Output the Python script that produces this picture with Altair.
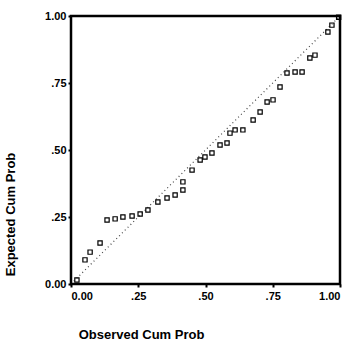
import altair as alt
import pandas as pd

observed = [0.022, 0.052, 0.071, 0.108, 0.134, 0.164, 0.193, 0.227, 0.257, 0.286,
            0.323, 0.357, 0.387, 0.416, 0.416, 0.450, 0.480, 0.498, 0.524, 0.554,
            0.580, 0.591, 0.610, 0.639, 0.677, 0.703, 0.729, 0.751, 0.777, 0.803,
            0.833, 0.859, 0.888, 0.907, 0.955, 0.970, 0.995]
expected = [0.015, 0.090, 0.119, 0.153, 0.239, 0.243, 0.250, 0.254, 0.261, 0.276,
            0.306, 0.321, 0.332, 0.351, 0.381, 0.425, 0.463, 0.474, 0.489, 0.519,
            0.526, 0.563, 0.575, 0.575, 0.612, 0.642, 0.679, 0.687, 0.735, 0.787,
            0.791, 0.791, 0.843, 0.854, 0.940, 0.966, 0.995]
ticks = [0.0, 0.25, 0.5, 0.75, 1.0]
diag_x = [0.0, 1.0]
diag_y = [0.0, 1.0]

W, H = 269, 268

pts = pd.DataFrame({"obs": observed, "exp": expected})
diag = pd.DataFrame({"obs": diag_x, "exp": diag_y})

label_expr = "datum.value == 0 ? '0.00' : datum.value == 1 ? '1.00' : '.' + format(datum.value*100, '02d')"

x = alt.X("obs:Q", scale=alt.Scale(domain=[0, 1], nice=False),
          axis=alt.Axis(values=ticks, labelExpr=label_expr, title="Observed Cum Prob",
                        grid=False, domain=False, tickSize=3, tickWidth=2, tickColor="black",
                        labelFont="Liberation Sans", labelFontWeight="bold", labelFontSize=11,
                        labelColor="black", labelPadding=3,
                        titleFont="Liberation Sans", titleFontWeight="bold", titleFontSize=13,
                        titleColor="black", titleX=70, titleY=44, titleAnchor="middle"))
y = alt.Y("exp:Q", scale=alt.Scale(domain=[0, 1], nice=False),
          axis=alt.Axis(values=ticks, labelExpr=label_expr, title="Expected Cum Prob",
                        grid=False, domain=False, tickSize=3, tickWidth=2, tickColor="black",
                        labelFont="Liberation Sans", labelFontWeight="bold", labelFontSize=11,
                        labelColor="black", labelPadding=2,
                        titleFont="Liberation Sans", titleFontWeight="bold", titleFontSize=13,
                        titleColor="black", titleX=-54, titleY=198, titleAnchor="middle"))

frame = alt.Chart(pd.DataFrame({"a": [0]})).mark_rect(
    filled=False, stroke="black", strokeWidth=2.5, fill=None
).encode(x=alt.value(0), x2=alt.value(W), y=alt.value(0), y2=alt.value(H))

line = alt.Chart(diag).mark_line(color="#444444", strokeDash=[1, 3], strokeWidth=1.2).encode(x=x, y=y)
points = alt.Chart(pts).mark_point(shape="square", size=18, filled=False, color="black",
                                    strokeWidth=1.2, opacity=1).encode(x=x, y=y)

chart = (line + points + frame).properties(
    width=W, height=H,
    autosize=alt.AutoSizeParams(type="none"),
    padding={"left": 71, "top": 16, "right": 13, "bottom": 63},
).configure_view(stroke=None).configure(background="white")

chart.save("out.html", embed_options={"renderer": "svg", "actions": False})
